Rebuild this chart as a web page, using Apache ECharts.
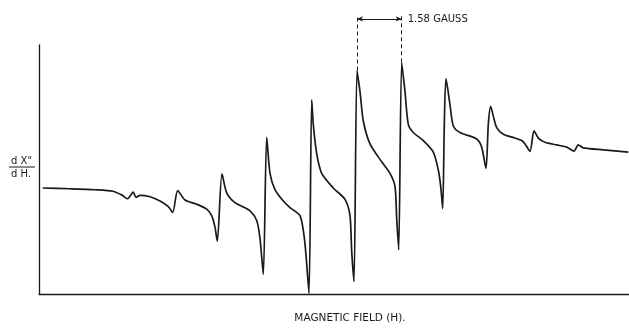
<!DOCTYPE html>
<html>
<head>
<meta charset="utf-8">
<title>EPR derivative spectrum</title>
<script src="https://cdn.jsdelivr.net/npm/echarts@6/dist/echarts.min.js"></script>
<style>
  html, body { margin: 0; padding: 0; background: #fff; }
  #chart { width: 629px; height: 329px; }
</style>
</head>
<body>
<div id="chart"></div>
<script>
// Magnetic field sweep position (arbitrary field units along the recorder trace)
const field = [
  3.7, 31, 56, 74, 83, 88.3, 94.3, 97, 101, 111, 121, 129.3, 133.7, 138.7, 146, 157.7,
  167.7, 172.7, 176, 178.3, 183, 187.7, 196, 211, 217.7, 221, 224.3, 227.7, 231, 236,
  244.3, 251, 261, 265, 267, 270, 272.7, 274.3, 277.7, 282.7, 294.3, 306, 311, 312.7,
  315, 318, 321, 324.3, 331, 342.7, 351, 356, 357.7, 359.7, 362.7, 366, 369.3, 374.3,
  384.3, 394.3, 399.3, 401.7, 403.7, 405.3, 407, 411, 414.3, 421, 437.7, 442.7, 447,
  449.3, 451.7, 454.3, 457.7, 464.3, 476, 482.7, 486, 491, 495, 499.3, 506, 517.7,
  527.7, 535, 539.3, 544.3, 564.3, 589.3
];

// First-derivative absorption signal dX''/dH (recorder deflection)
const signal = [
  108.3, 107.5, 106.5, 105, 101, 97.3, 104, 98.7, 100.7, 99.3, 95, 89.3, 83.3, 105.7, 96, 91.7,
  86.7, 80, 68, 54, 122.7, 103.3, 93.3, 85, 75, 56.7, 20, 160, 123.3, 106.7,
  95, 88.3, 80, 60, 40, 0.7, 198.3, 173.3, 143.3, 123.3, 108.3, 96.7, 80, 43.3,
  12.7, 228.3, 206.7, 176.7, 153.3, 135, 123.3, 110, 76.7, 45, 236.7, 206.7, 173.3, 165,
  156.7, 145, 126.7, 110, 87.3, 173.3, 220, 193.3, 171.7, 165, 158.3, 150, 128.3,
  173.3, 191.7, 181.7, 170, 163.3, 159.3, 156.7, 153.3, 145.7, 166.7, 159.3, 155, 152.3,
  150, 146, 152.3, 149.3, 147.3, 145
];

// Hyperfine splitting marked between two adjacent lines
const splittingGauss = 1.58;
const markedPeaks = [45, 54];   // indices of the two bracketed maxima
const bracketLevel = 281;      // height of the bracket arrow
const dashTop = 285;           // upper end of the dashed guides
const ordinateTop = 255;       // drawn length of the ordinate line

const xLabel = 'MAGNETIC FIELD (H).';
const yLabelTop = 'd X"';
const yLabelBottom = 'd H.';

const ink = '#1a1a1a';
const points = field.map((x, i) => [x, signal[i]]);
const pA = points[markedPeaks[0]];
const pB = points[markedPeaks[1]];

const chart = echarts.init(document.getElementById('chart'), null, { renderer: 'canvas' });

chart.setOption({
  animation: false,
  backgroundColor: '#ffffff',
  grid: { left: 39, right: 0, top: 15, bottom: 29, containLabel: false },
  xAxis: {
    type: 'value',
    min: 0,
    max: 590,
    name: xLabel,
    nameLocation: 'middle',
    nameGap: 19,
    nameTextStyle: {
      color: ink,
      fontFamily: 'DejaVu Sans',
      fontSize: 10.5,
      padding: [0, 0, 0, 32]
    },
    axisLine: { show: true, onZero: false, lineStyle: { color: ink, width: 1.3 } },
    axisTick: { show: false },
    axisLabel: { show: false },
    splitLine: { show: false }
  },
  yAxis: {
    type: 'value',
    min: 0,
    max: dashTop,
    axisLine: { show: false },
    axisTick: { show: false },
    axisLabel: { show: false },
    splitLine: { show: false }
  },
  graphic: [
    {
      type: 'text', left: 11, top: 156,
      style: { text: yLabelTop, fill: ink, font: '10px "DejaVu Sans"' }
    },
    {
      type: 'line',
      shape: { x1: 9, y1: 167, x2: 35, y2: 167 },
      style: { stroke: ink, lineWidth: 1 }
    },
    {
      type: 'text', left: 11, top: 169,
      style: { text: yLabelBottom, fill: ink, font: '10px "DejaVu Sans"' }
    }
  ],
  series: [
    {
      type: 'line',
      data: points,
      showSymbol: false,
      smooth: 0.25,
      clip: false,
      lineStyle: { color: ink, width: 1.7, join: 'round' },
      markLine: {
        silent: true,
        animation: false,
        symbol: 'none',
        lineStyle: { color: ink, width: 1, type: [4, 3] },
        label: { show: false },
        data: [
          // ordinate line
          [
            { coord: [0, 0] },
            { coord: [0, ordinateTop], lineStyle: { type: 'solid', width: 1.3, color: ink } }
          ],
          // dashed guides from the two bracketed maxima
          [{ coord: [pA[0], pA[1]] }, { coord: [pA[0], dashTop] }],
          [{ coord: [pB[0], pB[1]] }, { coord: [pB[0], dashTop] }],
          // splitting bracket
          [
            { coord: [pA[0], bracketLevel], symbol: 'arrow', symbolSize: [4, 6] },
            {
              coord: [pB[0], bracketLevel], symbol: 'arrow', symbolSize: [4, 6],
              lineStyle: { type: 'solid', width: 1.2, color: ink },
              label: {
                show: true,
                position: 'end',
                distance: 6,
                formatter: splittingGauss.toFixed(2) + ' GAUSS',
                color: ink,
                fontFamily: 'DejaVu Sans',
                fontSize: 10
              }
            }
          ]
        ]
      }
    }
  ]
});
</script>
</body>
</html>
